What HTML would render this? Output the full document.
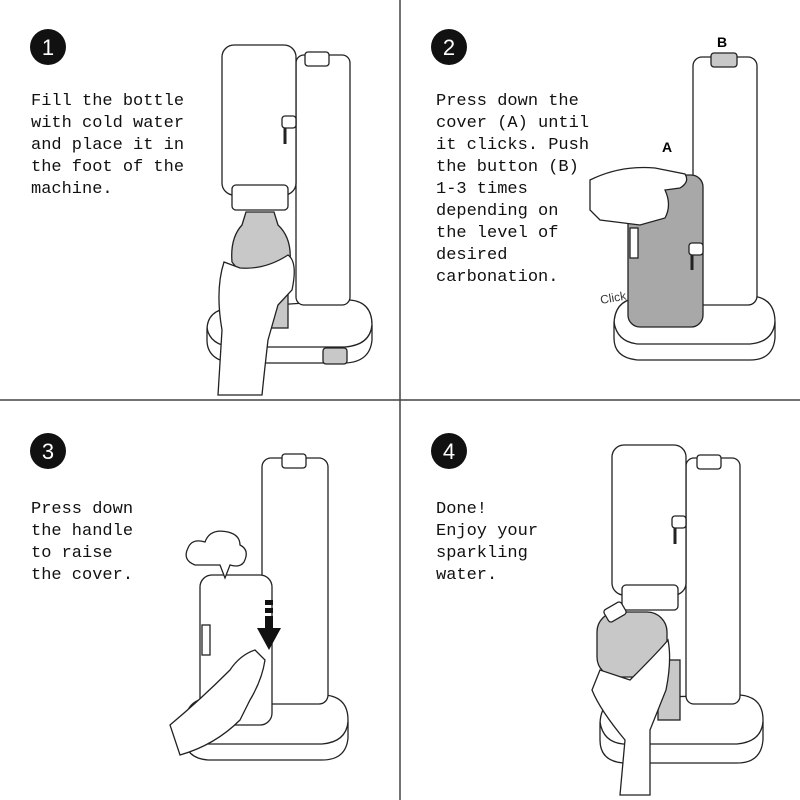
<!DOCTYPE html>
<html><head><meta charset="utf-8"><style>
html,body{margin:0;padding:0;background:#fff}
svg{display:block}
.t{font-family:"Liberation Mono",monospace;font-size:17px;fill:#111}
.n{font-family:"Liberation Sans",sans-serif;font-size:22px;fill:#fff;text-anchor:middle}
.l{fill:#fff;stroke:#222;stroke-width:1.3}
.g{fill:#c8c8c8;stroke:#222;stroke-width:1.3}
.d{fill:#a8a8a8;stroke:#222;stroke-width:1.3}
.s{fill:none;stroke:#222;stroke-width:1.3}
</style></head><body>
<svg width="800" height="800" viewBox="0 0 800 800" xmlns="http://www.w3.org/2000/svg">
<rect width="800" height="800" fill="#fff"/>
<line x1="400" y1="0" x2="400" y2="800" stroke="#444" stroke-width="1.5"/>
<line x1="0" y1="400" x2="800" y2="400" stroke="#444" stroke-width="1.5"/>

<circle cx="48" cy="47" r="18" fill="#111"/><text class="n" x="48" y="55">1</text>
<circle cx="449" cy="47" r="18" fill="#111"/><text class="n" x="449" y="55">2</text>
<circle cx="48" cy="451" r="18" fill="#111"/><text class="n" x="48" y="459">3</text>
<circle cx="449" cy="451" r="18" fill="#111"/><text class="n" x="449" y="459">4</text>

<text class="t" x="31" y="105">Fill the bottle</text>
<text class="t" x="31" y="127">with cold water</text>
<text class="t" x="31" y="149">and place it in</text>
<text class="t" x="31" y="171">the foot of the</text>
<text class="t" x="31" y="193">machine.</text>

<text class="t" x="436" y="105">Press down the</text>
<text class="t" x="436" y="127">cover (A) until</text>
<text class="t" x="436" y="149">it clicks. Push</text>
<text class="t" x="436" y="171">the button (B)</text>
<text class="t" x="436" y="193">1-3 times</text>
<text class="t" x="436" y="215">depending on</text>
<text class="t" x="436" y="237">the level of</text>
<text class="t" x="436" y="259">desired</text>
<text class="t" x="436" y="281">carbonation.</text>

<text class="t" x="31" y="513">Press down</text>
<text class="t" x="31" y="535">the handle</text>
<text class="t" x="31" y="557">to raise</text>
<text class="t" x="31" y="579">the cover.</text>

<text class="t" x="436" y="513">Done!</text>
<text class="t" x="436" y="535">Enjoy your</text>
<text class="t" x="436" y="557">sparkling</text>
<text class="t" x="436" y="579">water.</text>

<!-- PANEL 1 -->
<path class="l" d="M207 330 Q207 310 230 308 L350 300 Q372 302 372 325 L372 340 Q370 362 345 363 L232 363 Q207 360 207 340 Z"/>
<path class="s" d="M207 328 Q210 345 232 347 L345 347 Q370 345 372 325"/>
<rect class="l" x="296" y="55" width="54" height="250" rx="8"/>
<rect class="l" x="305" y="52" width="24" height="14" rx="3"/>
<rect class="g" x="323" y="348" width="24" height="16" rx="3"/>
<rect class="g" x="258" y="270" width="30" height="58"/>
<path class="g" d="M246 212 L274 212 L278 225 Q292 238 290 262 L288 272 L240 272 L232 262 Q230 238 242 225 Z"/>
<rect class="l" x="222" y="45" width="74" height="150" rx="12"/>
<rect class="l" x="232" y="185" width="56" height="25" rx="4"/>
<rect class="l" x="282" y="116" width="14" height="12" rx="3"/>
<line x1="285" y1="128" x2="285" y2="144" stroke="#222" stroke-width="3"/>
<path class="l" d="M218 395 L222 330 Q215 290 224 262 L240 268 Q265 270 288 255 Q298 262 292 290 L278 305 L268 340 Q264 375 262 395 Z"/>

<!-- PANEL 2 -->
<path class="l" d="M614 325 Q614 300 638 298 L752 296 Q775 298 775 322 L775 338 Q773 360 750 360 L638 360 Q614 358 614 338 Z"/>
<path class="s" d="M614 322 Q617 342 638 344 L750 344 Q773 342 775 322"/>
<rect class="l" x="693" y="57" width="64" height="248" rx="9"/>
<rect class="g" x="711" y="53" width="26" height="14" rx="3"/>
<text x="722" y="47" font-family="Liberation Sans,sans-serif" font-weight="bold" font-size="14" text-anchor="middle">B</text>
<text x="667" y="152" font-family="Liberation Sans,sans-serif" font-weight="bold" font-size="14" text-anchor="middle">A</text>
<rect class="d" x="628" y="175" width="75" height="152" rx="12"/>
<rect class="l" x="630" y="228" width="8" height="30"/>
<rect class="l" x="689" y="243" width="14" height="12" rx="3"/>
<line x1="692" y1="255" x2="692" y2="270" stroke="#222" stroke-width="3"/>
<text x="601" y="304" font-family="Liberation Sans,sans-serif" font-size="12" fill="#333" transform="rotate(-10 601 304)">Click</text>
<path class="l" d="M590 180 Q620 165 655 168 L685 174 Q690 182 680 188 L665 190 Q672 205 665 218 L640 225 L600 220 L590 210 Z"/>

<!-- PANEL 3 -->
<path class="l" d="M185 725 Q185 700 208 698 L325 695 Q348 697 348 720 L348 738 Q346 760 322 760 L208 760 Q185 758 185 738 Z"/>
<path class="s" d="M185 722 Q188 742 208 744 L322 744 Q346 742 348 722"/>
<rect class="l" x="262" y="458" width="66" height="246" rx="9"/>
<rect class="l" x="282" y="454" width="24" height="14" rx="3"/>
<rect class="l" x="200" y="575" width="72" height="150" rx="12"/>
<path class="l" d="M195 565 Q182 560 188 548 Q192 538 205 542 Q210 528 228 532 Q240 535 240 545 Q250 550 244 562 Q240 568 230 565 L225 578 L220 565 Z"/>
<rect x="265" y="600" width="8" height="5" fill="#111"/>
<rect x="265" y="608" width="8" height="5" fill="#111"/>
<rect x="265" y="616" width="8" height="12" fill="#111"/>
<path d="M257 628 L281 628 L269 650 Z" fill="#111"/>
<rect class="l" x="202" y="625" width="8" height="30"/>
<path class="l" d="M170 725 Q200 700 230 670 Q240 655 255 650 L265 660 Q262 680 250 700 L240 720 Q215 745 180 755 Z"/>

<!-- PANEL 4 -->
<path class="l" d="M600 725 Q600 700 623 698 L740 695 Q763 697 763 720 L763 740 Q761 763 737 763 L623 763 Q600 761 600 740 Z"/>
<path class="s" d="M600 722 Q603 742 623 744 L737 744 Q761 742 763 722"/>
<rect class="l" x="686" y="458" width="54" height="246" rx="8"/>
<rect class="l" x="697" y="455" width="24" height="14" rx="3"/>
<rect class="g" x="658" y="660" width="22" height="60"/>
<rect class="l" x="612" y="445" width="74" height="150" rx="12"/>
<rect class="l" x="622" y="585" width="56" height="25" rx="4"/>
<rect class="l" x="672" y="516" width="14" height="12" rx="3"/>
<line x1="675" y1="528" x2="675" y2="544" stroke="#222" stroke-width="3"/>
<rect class="g" x="597" y="612" width="70" height="65" rx="20"/>
<rect class="l" x="605" y="605" width="20" height="14" rx="3" transform="rotate(-30 615 612)"/>
<path class="l" d="M620 795 L625 740 Q600 710 592 690 L600 670 L630 680 Q660 650 668 640 Q672 660 666 690 L650 730 L650 795 Z"/>
</svg>
</body></html>
